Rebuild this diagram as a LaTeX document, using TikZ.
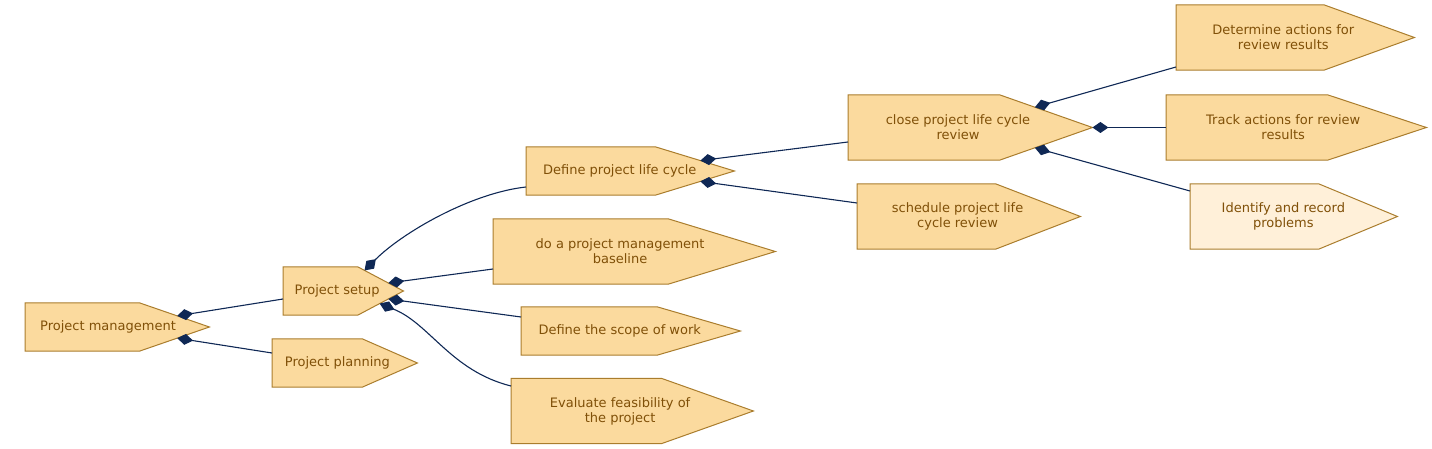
\documentclass[tikz,border=0pt]{standalone}
\usepackage{fontspec}
\setmainfont{DejaVu Sans}
\usetikzlibrary{calc,arrows.meta,backgrounds}

\definecolor{boxfill}{RGB}{251,218,158}
\definecolor{boxpale}{RGB}{255,240,217}
\definecolor{boxline}{RGB}{170,125,45}
\definecolor{boxtext}{RGB}{128,80,8}
\definecolor{linkcol}{RGB}{15,40,85}

\tikzset{
  procbox/.style={rectangle, inner sep=0pt, align=center, anchor=west,
    minimum width=0.9*#1, minimum height=48, text=boxtext,
    font=\fontsize{13}{15}\selectfont},
  twoline/.style={minimum height=65},
  boxshape/.style={fill=#1, draw=boxline, line width=1pt, line join=miter},
  link/.style={draw=linkcol, line width=1.1pt,
    arrows={Diamond[length=16pt,width=11pt,fill=linkcol]-}}
}

\begin{document}
\begin{tikzpicture}[x=1pt, y=-1pt]
\useasboundingbox (0,0) rectangle (1432,449);

% Process boxes (text centred on the flat part)
\node[procbox=184] (pm) at (25,327) {Project management};
\node[procbox=120] (setup) at (283,291) {Project setup};
\node[procbox=145] (planning) at (272,363) {Project planning};
\node[procbox=208] (lifecycle) at (526,171) {Define project life cycle};
\node[procbox=282, twoline] (baseline) at (493,251.5) {do a project management\\baseline};
\node[procbox=219] (scope) at (521,331) {Define the scope of work};
\node[procbox=242, twoline] (feasibility) at (511,411) {Evaluate feasibility of\\the project};
\node[procbox=244, twoline] (closereview) at (848,127.5) {close project life cycle\\review};
\node[procbox=223, twoline] (schedreview) at (857,216.5) {schedule project life\\cycle review};
\node[procbox=238, twoline] (determine) at (1176,37.5) {Determine actions for\\review results};
\node[procbox=260, twoline] (track) at (1166,127.5) {Track actions for review\\results};
\node[procbox=207, twoline] (identify) at (1190,216.5) {Identify and record\\problems};

% Tip and slope corners of each box
\foreach \n in {pm,setup,planning,lifecycle,baseline,scope,feasibility,
                closereview,schedreview,determine,track,identify}{
  \coordinate (\n-tip) at ($(\n.west)!1.111!(\n.east)$);
  \coordinate (\n-top) at ($(\n.north west)!0.689!(\n.north east)$);
  \coordinate (\n-bot) at ($(\n.south west)!0.689!(\n.south east)$);
}

% Pointed shapes behind the text
\begin{scope}[on background layer]
\foreach \n/\c in {pm/boxfill,setup/boxfill,planning/boxfill,lifecycle/boxfill,
                   baseline/boxfill,scope/boxfill,feasibility/boxfill,
                   closereview/boxfill,schedreview/boxfill,determine/boxfill,
                   track/boxfill,identify/boxpale}
  \path[boxshape=\c] (\n.north west) -- (\n-top) -- (\n-tip) -- (\n-bot)
    -- (\n.south west) -- cycle;
\end{scope}

% Links
\draw[link] ($(pm-tip)!0.46!(pm-top)$) -- ([yshift=-8pt]setup.west);
\draw[link] ($(pm-tip)!0.46!(pm-bot)$) -- ([yshift=10pt]planning.west);
\draw[link] ($(setup-tip)!0.85!(setup-top)$)
  .. controls +(38,-38) and +(-55,6) .. ([yshift=-16pt]lifecycle.west);
\draw[link] ($(setup-tip)!0.33!(setup-top)$) -- ([yshift=-17.5pt]baseline.west);
\draw[link] ($(setup-tip)!0.33!(setup-bot)$) -- ([yshift=14pt]scope.west);
\draw[link] ($(setup-tip)!0.52!(setup-bot)$)
  .. controls +(50,20) and +(-60,-15) .. ([yshift=25pt]feasibility.west);
\draw[link] ($(lifecycle-tip)!0.43!(lifecycle-top)$) -- ([yshift=-14.5pt]closereview.west);
\draw[link] ($(lifecycle-tip)!0.43!(lifecycle-bot)$) -- ([yshift=13.5pt]schedreview.west);
\draw[link] ($(closereview-tip)!0.62!(closereview-top)$) -- ([yshift=-29.5pt]determine.west);
\draw[link] (closereview-tip) -- (track.west);
\draw[link] ($(closereview-tip)!0.62!(closereview-bot)$) -- ([yshift=25.5pt]identify.west);
\end{tikzpicture}
\end{document}
